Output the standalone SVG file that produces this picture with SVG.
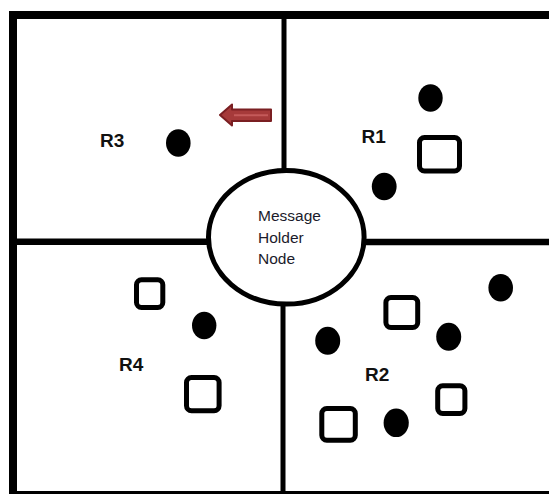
<svg xmlns="http://www.w3.org/2000/svg" width="549" height="494" viewBox="0 0 549 494">
  <style>
    .line { stroke: #000; fill: none; }
    .dot { fill: #000; }
    .sq { fill: none; stroke: #000; stroke-width: 5; }
    .lbl { font-family: "Liberation Sans", Arial, sans-serif; font-weight: bold; font-size: 19px; fill: #111; }
    .hub { font-family: "Liberation Sans", Arial, sans-serif; font-size: 15.5px; fill: #1b1b2b; }
  </style>
  <rect width="549" height="494" fill="#fff"/>
  <g id="frame">
    <rect class="line" x="13" y="15" width="560" height="480" stroke-width="8"/>
  </g>
  <g id="connectors">
    <line class="line" x1="284" y1="15" x2="284" y2="172" stroke-width="5"/>
    <line class="line" x1="283" y1="303" x2="283" y2="495" stroke-width="5"/>
    <line class="line" x1="13" y1="241.8" x2="210" y2="241.8" stroke-width="6.5"/>
    <line class="line" x1="362" y1="242" x2="560" y2="242" stroke-width="6.5"/>
    <polygon points="220,115 232,104.5 232,109.5 271,109.5 271,121 232,121 232,125.5" fill="#a63a3a" stroke="#7a1f22" stroke-width="2" stroke-linejoin="round"/>
    <line x1="234" y1="115.2" x2="268" y2="115.2" stroke="#c45a5a" stroke-width="2"/>
  </g>
  <g id="hub">
    <ellipse class="line" cx="286.3" cy="237.3" rx="77.8" ry="66.8" stroke-width="5"/>
    <text class="hub" x="258" y="220.5">Message</text>
    <text class="hub" x="258" y="242.5">Holder</text>
    <text class="hub" x="258" y="264">Node</text>
  </g>
  <g id="R1">
    <text class="lbl" x="361.5" y="143.3">R1</text>
    <ellipse class="dot" cx="430.5" cy="98" rx="12.2" ry="13.8"/>
    <rect class="sq" x="419.5" y="137.5" width="40" height="33.5" rx="5"/>
    <ellipse class="dot" cx="384.2" cy="186.5" rx="12.4" ry="13.8"/>
  </g>
  <g id="R2">
    <text class="lbl" x="365" y="380.7">R2</text>
    <ellipse class="dot" cx="500.7" cy="287.8" rx="12.3" ry="13.8"/>
    <rect class="sq" x="385.9" y="297.5" width="31.8" height="30" rx="5"/>
    <ellipse class="dot" cx="327.7" cy="340.8" rx="12.5" ry="14"/>
    <ellipse class="dot" cx="448.7" cy="336.8" rx="12.5" ry="14"/>
    <rect class="sq" x="437.7" y="385.8" width="27.2" height="27.7" rx="5"/>
    <rect class="sq" x="321.8" y="408.5" width="33.5" height="31.7" rx="5"/>
    <ellipse class="dot" cx="396.2" cy="422.8" rx="12.6" ry="14.3"/>
  </g>
  <g id="R3">
    <text class="lbl" x="100" y="146.7">R3</text>
    <ellipse class="dot" cx="178.3" cy="143" rx="12.3" ry="13.7"/>
  </g>
  <g id="R4">
    <text class="lbl" x="119" y="371">R4</text>
    <rect class="sq" x="136.5" y="279.8" width="26.3" height="27.7" rx="5"/>
    <ellipse class="dot" cx="204.2" cy="325.5" rx="12.2" ry="13.8"/>
    <rect class="sq" x="186.5" y="377.5" width="32.6" height="33.3" rx="5"/>
  </g>
</svg>
